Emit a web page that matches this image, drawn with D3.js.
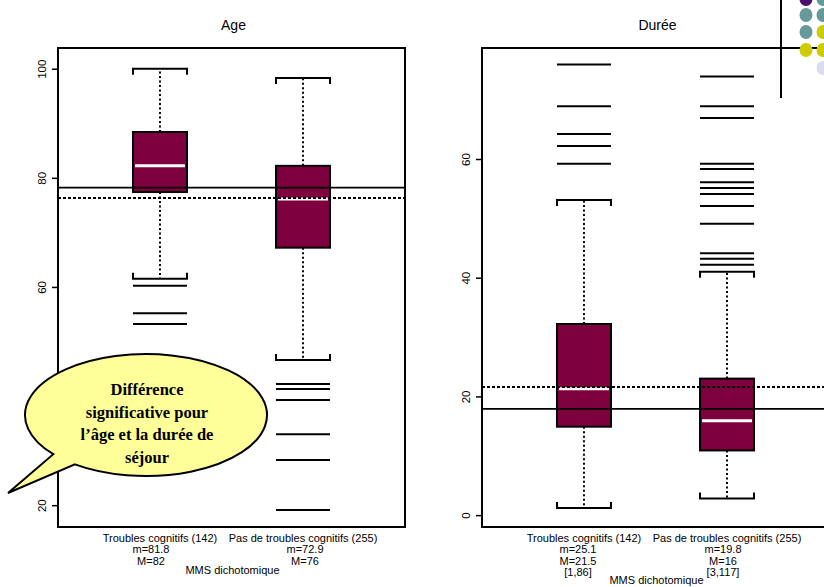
<!DOCTYPE html>
<html>
<head>
<meta charset="utf-8">
<script src="https://cdn.jsdelivr.net/npm/d3@7"></script>
<style>
  body { margin: 0; background: #fff; }
  svg { display: block; font-family: "Liberation Sans", Arial, sans-serif; }
</style>
</head>
<body>
<div id="viz"></div>
<script>
const width = 824;
const height = 587;
const boxColor = '#7f003f';

// data
const groups = ['Troubles cognitifs (142)', 'Pas de troubles cognitifs (255)'];

const ageLow = [61.5, 46.6];
const ageQ1 = [77.4, 67.2];
const ageMedian = [82.2, 76.1];
const ageQ3 = [88.4, 82.2];
const ageHigh = [100, 98.3];
const ageOutliers = [[60.2, 55.2, 53.2], [42.2, 41.3, 39.3, 33.0, 28.3, 19.1]];
const ageSolid = 78.2;
const ageDotted = 76.3;
const ageTicks = [20, 40, 60, 80, 100];
const ageLabels = [['m=81.8', 'M=82'], ['m=72.9', 'M=76']];

const dureeLow = [1.2, 2.8];
const dureeQ1 = [14.9, 10.9];
const dureeMedian = [21.3, 15.9];
const dureeQ3 = [32.2, 23.0];
const dureeHigh = [53.1, 41.0];
const dureeOutliers = [[75.9, 68.9, 64.2, 62.2, 59.2],
  [73.9, 68.9, 66.9, 59.2, 58.3, 56.1, 55.1, 54.1, 52.1, 49.1, 44.1, 43.2, 42.2]];
const dureeSolid = 17.9;
const dureeDotted = 21.6;
const dureeTicks = [0, 20, 40, 60];
const dureeLabels = [['m=25.1', 'M=21.5', '[1,86]'], ['m=19.8', 'M=16', '[3,117]']];

const svg = d3.select('#viz')
  .append('svg')
    .attr('width', width)
    .attr('height', height)

drawPanel = function (opt) {
  const x0 = opt.left, pw = 347, top = 48, bottom = 527;

  let xScale = d3.scalePoint()
    .domain(groups)
    .range([x0, x0 + pw])
    .padding(0.713)

  let yScale = d3.scaleLinear()
    .domain(opt.domain)
    .range([bottom, top])

  const bw = 54;
  const g = svg.append('g')

  g.append('text')
    .attr('x', x0 + pw / 2 + 2)
    .attr('y', 30)
    .attr('text-anchor', 'middle')
    .attr('font-size', 14)
    .text(opt.title)

  const idx = d3.range(groups.length)
  const boxes = g.selectAll('.box')
    .data(idx)
    .join('g')
    .attr('class', 'box')
    .attr('transform', i => `translate(${xScale(groups[i])},0)`)

  // whiskers
  boxes.append('line')
    .attr('y1', i => yScale(opt.q3[i])).attr('y2', i => yScale(opt.high[i]))
    .attr('stroke', '#000').attr('stroke-width', 2).attr('stroke-dasharray', '2,2.5')
  boxes.append('line')
    .attr('y1', i => yScale(opt.q1[i])).attr('y2', i => yScale(opt.low[i]))
    .attr('stroke', '#000').attr('stroke-width', 2).attr('stroke-dasharray', '2,2.5')

  // caps
  boxes.append('path')
    .attr('d', i => {
      const y = yScale(opt.high[i]);
      return `M${-bw / 2},${y + 6}V${y}H${bw / 2}V${y + 6}`;
    })
    .attr('fill', 'none').attr('stroke', '#000').attr('stroke-width', 2)
  boxes.append('path')
    .attr('d', i => {
      const y = yScale(opt.low[i]);
      return `M${-bw / 2},${y - 6}V${y}H${bw / 2}V${y - 6}`;
    })
    .attr('fill', 'none').attr('stroke', '#000').attr('stroke-width', 2)

  boxes.append('rect')
    .attr('x', -bw / 2)
    .attr('y', i => yScale(opt.q3[i]))
    .attr('width', bw)
    .attr('height', i => yScale(opt.q1[i]) - yScale(opt.q3[i]))
    .attr('fill', boxColor)
    .attr('stroke', '#000').attr('stroke-width', 2)

  boxes.append('line')
    .attr('x1', -bw / 2 + 2).attr('x2', bw / 2 - 2)
    .attr('y1', i => yScale(opt.median[i])).attr('y2', i => yScale(opt.median[i]))
    .attr('stroke', '#fff').attr('stroke-width', 3)

  // reference lines, drawn over the boxes
  g.append('line')
    .attr('x1', x0).attr('x2', x0 + pw)
    .attr('y1', yScale(opt.solid)).attr('y2', yScale(opt.solid))
    .attr('stroke', '#000').attr('stroke-width', 1.6)
  g.append('line')
    .attr('x1', x0).attr('x2', x0 + pw)
    .attr('y1', yScale(opt.dotted)).attr('y2', yScale(opt.dotted))
    .attr('stroke', '#000').attr('stroke-width', 2)
    .attr('stroke-dasharray', '3,2')

  // outliers as horizontal segments
  boxes.selectAll('.out')
    .data(i => opt.outliers[i])
    .join('line')
    .attr('class', 'out')
    .attr('x1', -bw / 2).attr('x2', bw / 2)
    .attr('y1', d => yScale(d)).attr('y2', d => yScale(d))
    .attr('stroke', '#000').attr('stroke-width', 2)

  // frame
  g.append('rect')
    .attr('x', x0).attr('y', top)
    .attr('width', pw).attr('height', bottom - top)
    .attr('fill', 'none').attr('stroke', '#000').attr('stroke-width', 2)

  const axis = g.append('g')
    .attr('transform', `translate(${x0},0)`)
    .call(d3.axisLeft(yScale).tickValues(opt.ticks).tickSize(6).tickSizeOuter(0))
  axis.select('.domain').remove()
  axis.selectAll('line').attr('stroke', '#000').attr('stroke-width', 1.5)
  axis.selectAll('text')
    .attr('x', null).attr('dy', null)
    .attr('text-anchor', 'middle')
    .attr('transform', 'translate(-12,0) rotate(-90)')
    .attr('font-size', 11.5)
    .attr('font-family', '"Liberation Sans", Arial, sans-serif')
    .attr('fill', '#000')

  // category labels under the boxes
  const lab = g.append('g').attr('font-size', 11).attr('text-anchor', 'middle')
  groups.forEach((name, i) => {
    const cx = xScale(name);
    lab.append('text').attr('x', cx).attr('y', 542).text(name)
    opt.labels[i].forEach((t, k) => {
      lab.append('text').attr('x', cx - 6 + i * 8 + opt.shift[i]).attr('y', 553 + k * 11.5).text(t)
    })
  })
  lab.append('text')
    .attr('x', x0 + pw / 2 + 1)
    .attr('y', opt.mmsY)
    .text('MMS dichotomique')
}

drawPanel({
  left: 58, title: 'Age', domain: [16, 103.8],
  low: ageLow, q1: ageQ1, median: ageMedian, q3: ageQ3, high: ageHigh,
  outliers: ageOutliers, solid: ageSolid, dotted: ageDotted,
  ticks: ageTicks, labels: ageLabels, shift: [-3, 0], mmsY: 574
})

drawPanel({
  left: 482, title: 'Durée', domain: [-2, 78.7],
  low: dureeLow, q1: dureeQ1, median: dureeMedian, q3: dureeQ3, high: dureeHigh,
  outliers: dureeOutliers, solid: dureeSolid, dotted: dureeDotted,
  ticks: dureeTicks, labels: dureeLabels, shift: [0, -6], mmsY: 584
})

// speech bubble
const cx = 146, cy = 415, rx = 121, ry = 61;
const a1 = 140 * Math.PI / 180, a2 = 126 * Math.PI / 180;
const p1 = [cx + rx * Math.cos(a1), cy + ry * Math.sin(a1)];
const p2 = [cx + rx * Math.cos(a2), cy + ry * Math.sin(a2)];
svg.append('path')
  .attr('d', `M${p1[0]},${p1[1]} A${rx},${ry} 0 1 1 ${p2[0]},${p2[1]} L8,493 Z`)
  .attr('fill', '#ffff99')
  .attr('stroke', '#000')
  .attr('stroke-width', 2)

const bubbleLines = ['Différence', 'significative pour', 'l’âge et la durée de', 'séjour'];
svg.append('g')
  .attr('font-family', '"Liberation Serif", "Times New Roman", serif')
  .attr('font-weight', 'bold')
  .attr('font-size', 16.5)
  .attr('text-anchor', 'middle')
  .selectAll('text')
  .data(bubbleLines)
  .join('text')
  .attr('x', 147)
  .attr('y', (d, i) => 395 + i * 22.7)
  .text(d => d)

// slide decoration in the top right corner
svg.append('line')
  .attr('x1', 781).attr('x2', 781).attr('y1', 0).attr('y2', 98)
  .attr('stroke', '#000').attr('stroke-width', 2)
const dots = [
  [806, -1, '#4b0f6e'], [823, -1, '#669999'],
  [806, 15, '#669999'], [823, 15, '#669999'],
  [806, 32, '#669999'], [823, 32, '#cccc00'],
  [806, 50, '#cccc00'], [823, 50, '#cccc00'],
  [823, 68, '#dcdcf0']
];
svg.append('g')
  .selectAll('ellipse')
  .data(dots)
  .join('ellipse')
  .attr('cx', d => d[0]).attr('cy', d => d[1])
  .attr('rx', 6.5).attr('ry', 7)
  .attr('fill', d => d[2])
</script>
</body>
</html>
